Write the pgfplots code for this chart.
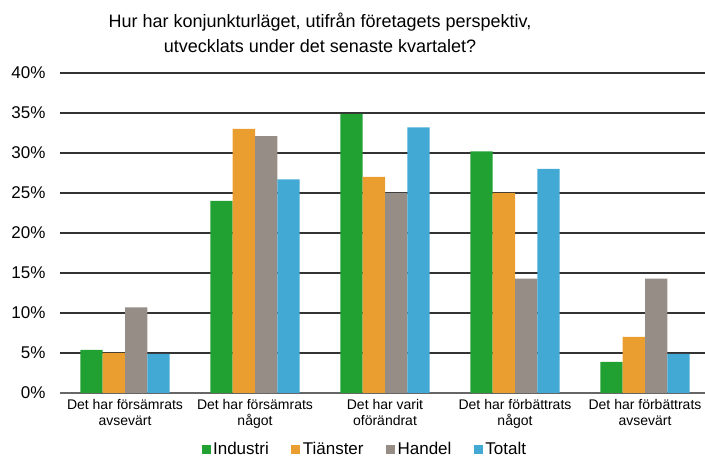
\documentclass[border=0pt]{standalone}
\usepackage{pgfplots}
\pgfplotsset{compat=1.18}
\usepackage{fontspec}
\setmainfont{Liberation Sans}
\definecolor{cInd}{HTML}{21A131}
\definecolor{cTja}{HTML}{EA9E2F}
\definecolor{cHan}{HTML}{968D87}
\definecolor{cTot}{HTML}{42A9D5}
\begin{document}
\begin{tikzpicture}
\useasboundingbox (-60pt,-64pt) rectangle (645pt,393pt);
\begin{axis}[
  at={(0pt,0pt)}, anchor=south west,
  scale only axis,
  width=645pt, height=320pt,
  xmin=-0.5, xmax=4.4615,
  ymin=0, ymax=40,
  ybar=0pt, bar width=22.3pt,
  axis x line*=bottom, axis y line*=left,
  x axis line style={draw=black!60, line width=1.2pt, -},
  y axis line style={draw=none},
  ytick={0,5,...,40},
  yticklabel={\pgfmathprintnumber{\tick}\%},
  /pgf/number format/assume math mode=true,
  ymajorgrids,
  grid style={draw=black!80, line width=1.1pt},
  major tick length=0pt,
  yticklabel style={font=\fontsize{17}{17}\selectfont, anchor=east, xshift=-11pt},
  xtick={0,1,2,3,4},
  xticklabels={{Det har försämrats\\avsevärt},{Det har försämrats\\något},{Det har varit\\oförändrat},{Det har förbättrats\\något},{Det har förbättrats\\avsevärt}},
  xticklabel style={font=\fontsize{14}{16}\selectfont, align=center, yshift=-3pt},
  clip=false,
  legend columns=4,
  legend style={at={(0.473,-0.176)}, anchor=center, draw=none, fill=none,
    font=\fontsize{17}{17}\selectfont,
    /tikz/every even column/.append style={column sep=20pt},
    nodes={inner sep=2.5pt}},
  legend image code/.code={\fill[#1] (0pt,-4.5pt) rectangle (9pt,4.5pt);},
  every axis plot/.append style={draw=none},
]
\addplot[fill=cInd] coordinates {(0,5.4) (1,24.0) (2,34.9) (3,30.2) (4,3.9)};
\addplot[fill=cTja] coordinates {(0,5.0) (1,33.0) (2,27.0) (3,25.0) (4,7.0)};
\addplot[fill=cHan] coordinates {(0,10.7) (1,32.1) (2,25.0) (3,14.3) (4,14.3)};
\addplot[fill=cTot] coordinates {(0,4.9) (1,26.7) (2,33.2) (3,28.0) (4,4.9)};
\legend{Industri,Tiänster,Handel,Totalt}
\end{axis}
\node[align=center, font=\fontsize{18}{25}\selectfont] at (260pt,360pt) {Hur har konjunkturläget, utifrån företagets perspektiv,\\utvecklats under det senaste kvartalet?};
\end{tikzpicture}
\end{document}
